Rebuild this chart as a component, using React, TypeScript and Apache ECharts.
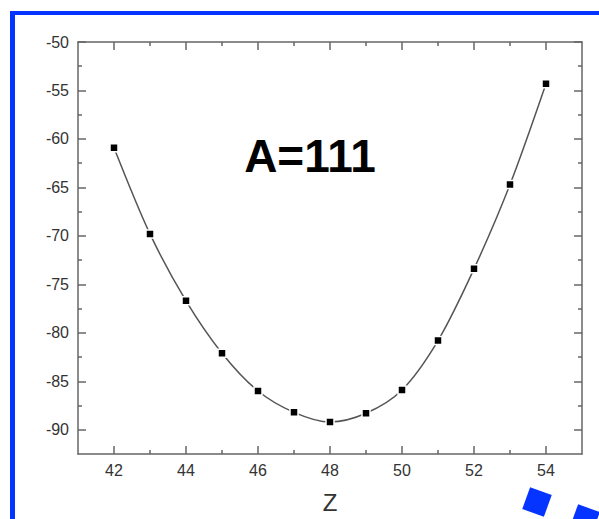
import React, { useEffect, useRef } from "react";
import * as echarts from "echarts";

const zValues = [42, 43, 44, 45, 46, 47, 48, 49, 50, 51, 52, 53, 54];
const energyValues = [-60.9, -69.8, -76.7, -82.1, -86.0, -88.2, -89.2, -88.3, -85.9, -80.8, -73.4, -64.7, -54.3];
const xMajorTicks = [42, 44, 46, 48, 50, 52, 54];
const xMinorTicks = [43, 45, 47, 49, 51, 53];
const yMajorTicks = [-90, -85, -80, -75, -70, -65, -60, -55, -50];
const yMinorTicks = [-87.5, -82.5, -77.5, -72.5, -67.5, -62.5, -57.5, -52.5];
const titleText = "A=111";
const xAxisName = "Z";

const AXIS_COLOR = "#666";
const TEXT_COLOR = "#333";
const BLUE = "#0533ff";
const FONT = "'Liberation Sans', Arial, sans-serif";

export default function App() {
  const ref = useRef<HTMLDivElement>(null);
  useEffect(() => {
    if (!ref.current) return;
    const chart = echarts.init(ref.current, null, { renderer: "svg" });
    const xBase = { type: "value", min: 41, max: 55, gridIndex: 0, splitLine: { show: false } };
    const yBase = { type: "value", min: -92.5, max: -50, gridIndex: 0, splitLine: { show: false } };
    const line = { show: true, lineStyle: { color: AXIS_COLOR, width: 1.5 } };
    const noLine = { show: false };
    const noLabel = { show: false };
    const tick = (vals: number[], len: number) => ({
      show: true, inside: true, length: len, customValues: vals,
      lineStyle: { color: AXIS_COLOR, width: 1.5 },
    });
    const data = zValues.map((z, i) => [z, energyValues[i]]);
    chart.setOption({
      animation: false,
      backgroundColor: "#fff",
      grid: { left: 78, top: 42, right: 17, bottom: 61, containLabel: false },
      xAxis: [
        {
          ...xBase, position: "bottom", axisLine: line, axisTick: tick(xMajorTicks, 8),
          axisLabel: { customValues: xMajorTicks, fontSize: 16, color: TEXT_COLOR, margin: 8, fontFamily: FONT },
          name: xAxisName, nameLocation: "middle", nameGap: 36,
          nameTextStyle: { fontSize: 24, color: TEXT_COLOR, fontFamily: FONT },
        },
        { ...xBase, position: "bottom", axisLine: noLine, axisTick: tick(xMinorTicks, 4), axisLabel: noLabel },
        { ...xBase, position: "top", axisLine: line, axisTick: tick(xMajorTicks, 8), axisLabel: noLabel },
        { ...xBase, position: "top", axisLine: noLine, axisTick: tick(xMinorTicks, 4), axisLabel: noLabel },
      ],
      yAxis: [
        {
          ...yBase, position: "left", axisLine: line, axisTick: tick(yMajorTicks, 8),
          axisLabel: { customValues: yMajorTicks, fontSize: 16, color: TEXT_COLOR, margin: 9, fontFamily: FONT },
        },
        { ...yBase, position: "left", axisLine: noLine, axisTick: tick(yMinorTicks, 4), axisLabel: noLabel },
        { ...yBase, position: "right", axisLine: line, axisTick: tick(yMajorTicks, 8), axisLabel: noLabel },
        { ...yBase, position: "right", axisLine: noLine, axisTick: tick(yMinorTicks, 4), axisLabel: noLabel },
      ],
      series: [
        {
          type: "line",
          xAxisIndex: 0,
          yAxisIndex: 0,
          data,
          smooth: 0.3,
          symbol: "rect",
          symbolSize: 8,
          lineStyle: { color: "#555", width: 1.5 },
          itemStyle: { color: "#000", borderColor: "#fff", borderWidth: 1.5 },
          z: 3,
        },
      ],
      graphic: [
        { type: "rect", shape: { x: 10, y: 11, width: 589, height: 4 }, style: { fill: BLUE }, silent: true },
        { type: "rect", shape: { x: 10, y: 11, width: 5, height: 508 }, style: { fill: BLUE }, silent: true },
        {
          type: "rect", x: 537, y: 502, rotation: -20 * Math.PI / 180,
          shape: { x: -11.5, y: -11.5, width: 23, height: 23 }, style: { fill: BLUE }, silent: true,
        },
        {
          type: "rect", x: 585, y: 519, rotation: -20 * Math.PI / 180,
          shape: { x: -11.5, y: -11.5, width: 23, height: 23 }, style: { fill: BLUE }, silent: true,
        },
        {
          type: "text", x: 310, y: 156,
          style: {
            text: titleText, fontSize: 46, fontWeight: "bold", fill: "#000",
            fontFamily: FONT, align: "center", verticalAlign: "middle",
          },
        },
      ],
    });
    return () => chart.dispose();
  }, []);
  return (
    <div
      ref={ref}
      style={{ position: "absolute", left: 0, top: 0, width: 599, height: 519, background: "#fff" }}
    />
  );
}
